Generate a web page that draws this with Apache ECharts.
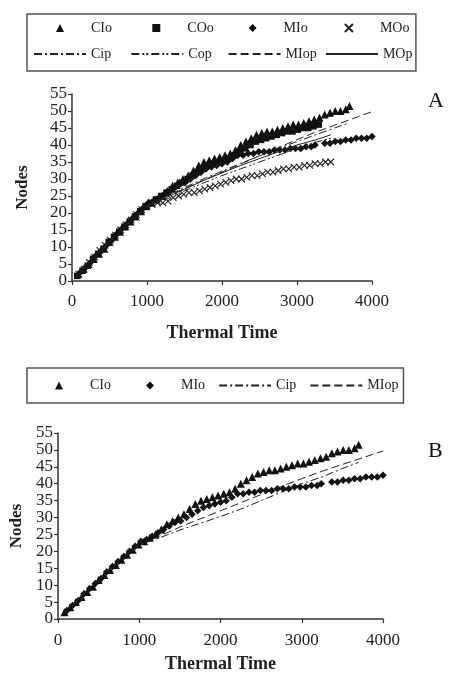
<!DOCTYPE html>
<html>
<head>
<meta charset="utf-8">
<script src="https://cdn.jsdelivr.net/npm/echarts@6/dist/echarts.min.js"></script>
<style>
html,body{margin:0;padding:0;background:#fff;}
#c{width:449px;height:674px;}
</style>
</head>
<body>
<div id="c"></div>
<script>
// ---- Data (thermal time, nodes) ----
var xTicks = [0, 1000, 2000, 3000, 4000];
var yTicks = [0, 5, 10, 15, 20, 25, 30, 35, 40, 45, 50, 55];

var CIo_t = [80,150,220,290,360,430,500,570,640,710,780,850,920,990,1060,1130,1200,1270,1340,1410,1480,1550,1620,1690,1760,1830,1900,1970,2040,2110,2180,2250,2320,2390,2460,2530,2600,2670,2740,2810,2880,2950,3020,3090,3160,3230,3300,3370,3440,3510,3580,3650,3700];
var CIo_n = [2,3.5,5,6.5,8,9.5,11.5,13,14.5,16,17.5,19,20.5,22,23,24,25,26.5,28,29,30,31,32.5,34,35,35.5,36,36.5,37,37.5,38.5,40,41,42,43,43.5,44,44,44.5,45,45.5,46,46,46.5,47,47.5,48,49,49.5,50,50,50.5,51.5];

var COo_t = [70,140,210,280,350,420,490,560,630,700,770,840,910,980,1050,1120,1190,1260,1330,1400,1470,1540,1610,1680,1750,1820,1890,1960,2030,2100,2170,2240,2310,2380,2450,2520,2590,2660,2730,2800,2870,2940,3010,3080,3150,3220,3290];
var COo_n = [1.5,3,4.5,6.5,8,9.5,11.5,13,14.5,16,17.5,19,20.5,22,23,24,25,26,27,28,29,30,31,32,33,34,34.5,35,35.5,36,37,38,39,40,41,41.5,42,42.5,43,43.5,44,44,44.5,45,45,45.5,46];

var MIo_t = [110,180,250,320,390,460,530,600,670,740,810,880,950,1020,1090,1160,1230,1300,1370,1440,1510,1580,1650,1720,1790,1860,1930,2000,2070,2140,2210,2280,2350,2420,2490,2560,2630,2700,2770,2840,2910,2980,3050,3120,3190,3240,3370,3440,3510,3580,3650,3720,3790,3860,3930,4000];
var MIo_n = [2.5,4,5.5,7.5,9,10.5,12,14,15.5,17,18.5,20,21.5,23,23.5,24.5,25.5,26.5,27.5,28.5,29,30,31,32,33,33.5,34,34.5,35,36,37,37,37.5,37.5,38,38,38,38.5,38.5,38.5,39,39,39,39.5,39.5,40,40.5,40.5,41,41,41.5,41.5,42,42,42,42.5];

var MOo_t = [90,160,230,300,370,440,510,580,650,720,790,860,930,1000,1070,1140,1210,1280,1350,1420,1490,1560,1630,1700,1770,1840,1910,1980,2050,2120,2190,2260,2330,2400,2470,2540,2610,2680,2750,2820,2890,2960,3030,3100,3170,3240,3310,3380,3450];
var MOo_n = [2,3.5,5.5,7,9,10.5,12,13.5,15,16.5,18,19.5,21,22,22.5,23,23,23.5,24.5,25,25.5,26,26,26.5,27,27.5,28,28.5,29,29.5,30,30,30.5,31,31,31.5,32,32,32.5,33,33,33.5,33.5,34,34,34.5,34.5,35,35];

// model lines, chart A
var CipA_t  = [50,250,500,750,1000,1250,1500,1750,2000,2250,2500,2750,3000,3250,3500,3700];
var CipA_n  = [1,6,11.5,17,22,25,27.5,30,32.3,34.6,36.8,39,41,43,45,46.5];
var CopA_t  = [50,250,500,750,1000,1250,1500,1750,2000,2250,2500,2750,3000,3250,3450];
var CopA_n  = [1,6,11.5,17,22,24,26.5,28.8,31,33,35,37,39,40.8,42];
var MIopA_t = [50,250,500,750,1000,1250,1500,1750,2000,2250,2500,2750,3000,3250,3500,3750,4000];
var MIopA_n = [1,6,11.5,17,22,24.8,27.2,29.6,32,34.4,36.8,39.2,41.6,43.8,45.8,47.8,49.8];
var MOpA_t  = [50,250,500,750,1000,1250,1500,1750,2000,2250,2500,2750,3000,3250,3450];
var MOpA_n  = [1,6,11.5,17,22,24.5,27,29.5,31.8,34,36,38,40,41.5,43];

// model lines, chart B
var CipB_t  = [50,250,500,750,1000,1250,1500,1750,2000,2250,2500,2750,3000,3250,3500,3700];
var CipB_n  = [1,6,11.5,17,22,24,26.3,28.3,30.3,32.5,35,37.5,40,42,44.5,46.3];
var MIopB_t = [50,250,500,750,1000,1250,1500,1750,2000,2250,2500,2750,3000,3250,3500,3750,4000];
var MIopB_n = [1,6,11.5,17,22,24.5,27.2,29.6,32,34.4,36.8,39.2,41.5,43.7,45.7,47.7,49.7];

function pairs(ts, ns) {
  var out = [];
  for (var i = 0; i < ns.length; i++) out.push([ts[i], ns[i]]);
  return out;
}

var SERIF = 'Liberation Serif, Times New Roman, serif';
var AX = '#333';

function axes(gridIndex, nameGapX, nameGapY, labelMarginX) {
  return {
    x: {
      type: 'value', gridIndex: gridIndex, min: xTicks[0], max: xTicks[xTicks.length - 1], interval: 1000,
      name: 'Thermal Time', nameLocation: 'middle', nameGap: nameGapX,
      nameTextStyle: {fontFamily: SERIF, fontWeight: 'bold', fontSize: 18, color: '#222'},
      axisLine: {show: true, onZero: false, lineStyle: {color: AX, width: 1.5}},
      axisTick: {show: true, length: 4, lineStyle: {color: AX, width: 1.2}},
      axisLabel: {fontFamily: SERIF, fontSize: 17, color: '#222', margin: labelMarginX,
                  formatter: function (v) { return String(v); }},
      splitLine: {show: false}
    },
    y: {
      type: 'value', gridIndex: gridIndex, min: yTicks[0], max: yTicks[yTicks.length - 1], interval: 5,
      name: 'Nodes', nameLocation: 'middle', nameGap: nameGapY,
      nameTextStyle: {fontFamily: SERIF, fontWeight: 'bold', fontSize: 17, color: '#222'},
      axisLine: {show: true, lineStyle: {color: AX, width: 1.5}},
      axisTick: {show: true, length: 4, lineStyle: {color: AX, width: 1.2}},
      axisLabel: {fontFamily: SERIF, fontSize: 17, color: '#222', margin: 5},
      splitLine: {show: false}
    }
  };
}
var aA = axes(0, 43, 41, 12);
var aB = axes(1, 36, 27, 13);

function obs(name, data, symbol, size, idx, extraItem) {
  var item = {color: '#111', borderWidth: 0};
  if (extraItem) { for (var k in extraItem) item[k] = extraItem[k]; }
  return {
    name: name, type: 'line', xAxisIndex: idx, yAxisIndex: idx, data: data,
    symbol: symbol, symbolSize: size, showAllSymbol: true,
    lineStyle: {width: 0, opacity: 0}, itemStyle: item, z: 2, silent: true
  };
}
function model(name, data, dash, idx) {
  return {
    name: name, type: 'line', xAxisIndex: idx, yAxisIndex: idx, data: data,
    symbol: 'none', lineStyle: {width: 1, color: '#222', type: dash},
    itemStyle: {color: '#222'}, z: 3, silent: true
  };
}
var XMARK = 'path://M0,0L10,10M10,0L0,10';
var DASHDOT = [8, 3, 2, 3];
var DASHDOTDOT = [8, 3, 2, 2, 2, 3];
var DASH = [8, 4];

var option = {
  animation: false,
  backgroundColor: '#fff',
  grid: [
    {left: 72, right: 77, top: 94, bottom: 393, containLabel: false},
    {left: 58, right: 66, top: 433, bottom: 49, containLabel: false}
  ],
  xAxis: [aA.x, aB.x],
  yAxis: [aA.y, aB.y],
  legend: [
    {
      left: 27, top: 14, width: 385, orient: 'horizontal', itemGap: 0,
      itemWidth: 52, itemHeight: 10, padding: [1, 0, 4, 6],
      borderColor: '#555', borderWidth: 1.5, selectedMode: false,
      textStyle: {fontFamily: SERIF, fontSize: 14, color: '#222', width: 39.3, height: 26, lineHeight: 26},
      data: [
        {name: 'CIo'}, {name: 'COo'}, {name: 'MIo'}, {name: 'MOo', textStyle: {width: 33}},
        {name: 'Cip', itemStyle: {opacity: 0}}, {name: 'Cop', itemStyle: {opacity: 0}},
        {name: 'MIop', itemStyle: {opacity: 0}}, {name: 'MOp', itemStyle: {opacity: 0}, textStyle: {width: 33}}
      ]
    },
    {
      left: 27, top: 368, orient: 'horizontal', itemGap: 13,
      itemWidth: 52, itemHeight: 10, padding: [8.5, 5, 8.5, 6],
      borderColor: '#555', borderWidth: 1.5, selectedMode: false,
      textStyle: {fontFamily: SERIF, fontSize: 14, color: '#222', lineHeight: 18},
      data: [
        {name: 'CIo '}, {name: 'MIo '},
        {name: 'Cip ', itemStyle: {opacity: 0}}, {name: 'MIop ', itemStyle: {opacity: 0}}
      ],
      formatter: function (n) { return n.trim(); }
    }
  ],
  graphic: [
    {type: 'text', left: 428, top: 90, style: {text: 'A', font: '22px ' + SERIF, fill: '#111'}},
    {type: 'text', left: 428, top: 440, style: {text: 'B', font: '22px ' + SERIF, fill: '#111'}}
  ],
  series: [
    obs('COo', pairs(COo_t, COo_n), 'rect', 6.5, 0),
    obs('MOo', pairs(MOo_t, MOo_n), XMARK, 6.5, 0, {color: '#222', borderColor: '#222', borderWidth: 1.1}),
    obs('MIo', pairs(MIo_t, MIo_n), 'diamond', 7.5, 0),
    obs('CIo', pairs(CIo_t, CIo_n), 'triangle', 8, 0),
    model('Cip', pairs(CipA_t, CipA_n), DASHDOT, 0),
    model('Cop', pairs(CopA_t, CopA_n), DASHDOTDOT, 0),
    model('MIop', pairs(MIopA_t, MIopA_n), DASH, 0),
    model('MOp', pairs(MOpA_t, MOpA_n), 'solid', 0),

    obs('MIo ', pairs(MIo_t, MIo_n), 'diamond', 7.5, 1),
    obs('CIo ', pairs(CIo_t, CIo_n), 'triangle', 8, 1),
    model('Cip ', pairs(CipB_t, CipB_n), DASHDOT, 1),
    model('MIop ', pairs(MIopB_t, MIopB_n), DASH, 1)
  ]
};

var chart = echarts.init(document.getElementById('c'), null, {renderer: 'canvas'});
chart.setOption(option);
</script>
</body>
</html>
